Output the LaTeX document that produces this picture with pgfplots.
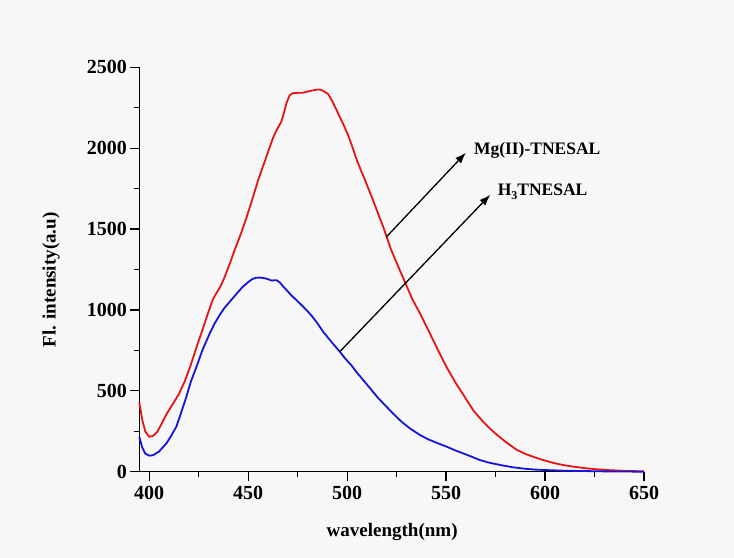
\documentclass[border=0pt]{standalone}
\usepackage{pgfplots}
\pgfplotsset{compat=1.18}
\usetikzlibrary{arrows.meta}
\usepackage{fontspec}
\setmainfont{Liberation Serif}
\definecolor{bgc}{RGB}{247,247,247}
\definecolor{myred}{RGB}{230,20,20}
\definecolor{myblue}{RGB}{20,20,220}
\begin{document}
\begin{tikzpicture}
\fill[bgc] (0,0) rectangle (734bp,558bp);
\useasboundingbox (0,0) rectangle (734bp,558bp);
\begin{axis}[
  at={(139.3bp,86.3bp)}, anchor=south west,
  scale only axis, width=504.7bp, height=404.4bp,
  xmin=395, xmax=650, ymin=0, ymax=2500,
  axis x line*=bottom, axis y line*=left,
  axis line style={-, line width=1.2bp, black},
  every tick/.style={black, line width=1.2bp},
  tick align=outside,
  major tick length=9bp, minor tick length=5bp,
  xtick={400,450,...,650}, ytick={0,500,...,2500},
  minor tick num=1,
  /pgf/number format/assume math mode=true,
  /pgf/number format/1000 sep={},
  tick label style={font=\bfseries\fontsize{20bp}{22bp}\selectfont},
  xticklabel style={yshift=-2bp},
  label style={font=\bfseries\fontsize{19bp}{22bp}\selectfont},
  xlabel={wavelength(nm)},
  ylabel={Fl. intensity(a.u)},
  xlabel style={at={(axis description cs:0.501,-0.150)}, anchor=center},
  ylabel style={at={(axis description cs:-0.175,0.474)}, anchor=center},
  clip=false,
]
\addplot[myred, line width=1.8bp] coordinates {
(395,430) (396.5,320) (398,250) (400,216) (402,222) (404,245) (406,290)
(408.7,355) (412,420) (415,480) (418,560) (421,660) (424,773) (427,880)
(430,990) (432,1060) (434,1105) (436,1145) (438,1200) (441,1295) (443,1365)
(446,1460) (449,1565) (452,1680) (455,1800) (458,1905) (460,1975) (462.6,2065)
(464.3,2110) (466.8,2165) (468,2215) (469.4,2280) (471,2328) (472.7,2340)
(475,2342) (477.8,2343) (480,2350) (483,2358) (485.3,2363) (487,2360)
(488.5,2350) (490.4,2335) (492.5,2290) (494.6,2238) (496,2200) (498,2150)
(500,2095) (501.4,2050) (503,1995) (504.8,1930) (507,1862) (509,1805)
(511,1742) (513.1,1679) (515.5,1600) (518.2,1515) (520,1452) (522,1380)
(524,1320) (527,1235) (530,1150) (533,1065) (536.8,979) (540,900) (543,825)
(545.2,770) (548,700) (551,630) (553.4,580) (555.3,540) (558,490) (560.4,443)
(564,375) (568.7,309) (572,268) (576,225) (580,185) (585.6,136) (590,110)
(595,88) (599,72) (604,55) (609.2,41) (615,30) (620,22) (626,15) (632,10)
(640,5) (650,2)
};
\addplot[myblue, line width=1.8bp] coordinates {
(395,215) (396.5,150) (398,112) (400,99) (402,102) (405,125) (408.7,175)
(411,220) (413.7,278) (416,360) (418.8,464) (421,555) (423.9,649) (427,755)
(430.6,855) (433,915) (435.6,968) (438,1012) (441,1055) (444,1098)
(447,1140) (450,1172) (452,1190) (454,1199) (456,1200) (458.4,1196)
(460,1190) (461.8,1182) (464.3,1184) (466,1170) (467.6,1146) (470,1115)
(472,1088) (474.4,1061) (477,1030) (479.5,999) (482,965) (485,918)
(487.9,865) (491.3,814) (494,775) (496.3,742) (499,700) (502,660) (505,612)
(508.1,567) (512,510) (515.7,455) (519.9,402) (523,362) (527.5,309)
(532,265) (536.8,227) (541,200) (546,175) (550.2,155) (555,130) (560,107)
(567.1,72) (572,55) (578,40) (583.9,27) (590,18) (595,13) (600.8,10)
(610,6) (620,4) (630,2) (640,1) (650,0)
};
\draw[-{Latex[length=11bp,width=8bp]}, line width=1.3bp] (axis cs:519.9,1452) -- (axis cs:560.0,1972);
\draw[-{Latex[length=11bp,width=8bp]}, line width=1.3bp] (axis cs:496.3,742) -- (axis cs:572.3,1712);
\node[anchor=west, inner sep=1bp, font=\bfseries\fontsize{17.5bp}{20bp}\selectfont] at (axis cs:563.5,1985) {Mg(II)-TNESAL};
\node[anchor=west, inner sep=1bp, font=\bfseries\fontsize{17.5bp}{20bp}\selectfont] at (axis cs:575.5,1730) {H\raisebox{-4bp}{\fontsize{12bp}{14bp}\selectfont 3}TNESAL};
\end{axis}
\end{tikzpicture}
\end{document}
